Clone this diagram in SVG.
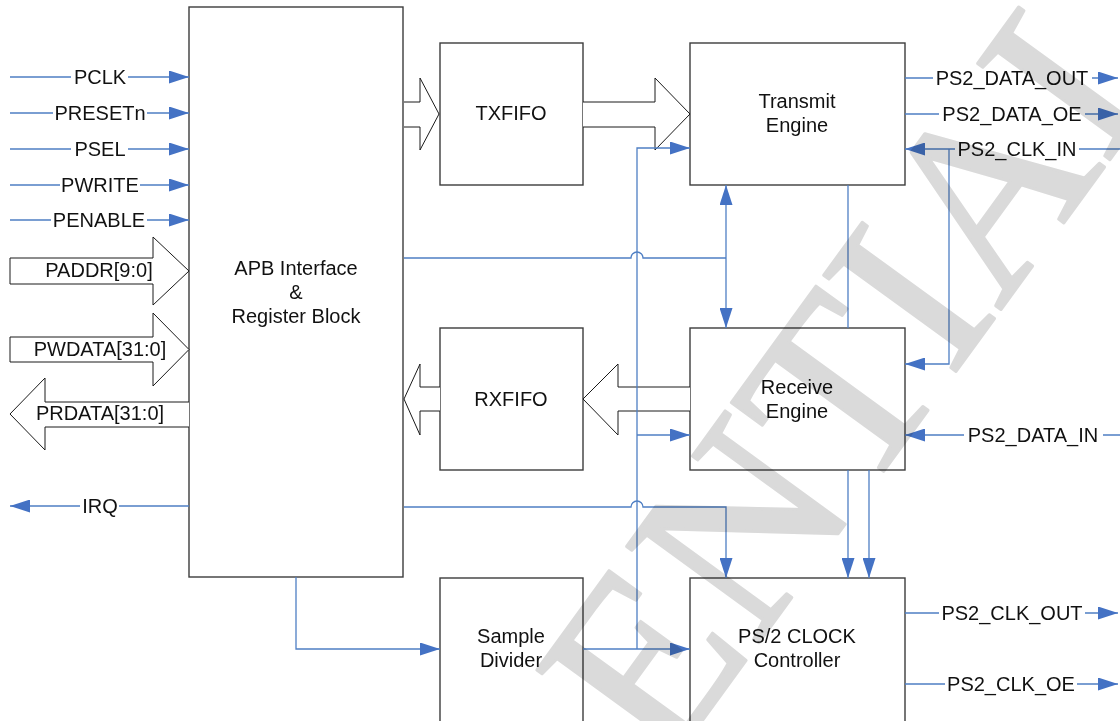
<svg xmlns="http://www.w3.org/2000/svg" width="1120" height="721" viewBox="0 0 1120 721">
<defs>
<style>
.box{fill:#fff;stroke:#3c3c3c;stroke-width:1.4}
.bar{fill:#fff;stroke:#1a1a1a;stroke-width:1}
.ln{fill:none;stroke:#4f7fc4;stroke-width:1.3}
.t{font-family:"Liberation Sans",Arial,sans-serif;font-size:20px;fill:#111;text-anchor:middle}
.wm{font-family:"Liberation Serif","Times New Roman",serif;font-size:250px;fill:#dadada;stroke:#dadada;stroke-width:3;stroke-linejoin:round;mix-blend-mode:multiply}
</style>
<marker id="ah" markerUnits="userSpaceOnUse" markerWidth="20" markerHeight="13" refX="20" refY="6.5" orient="auto-start-reverse">
<path d="M0,0 L20,6.5 L0,13 z" fill="#4472c4"/>
</marker>
</defs>
<rect width="1120" height="721" fill="#fff"/>

<g id="apb"><rect class="box" x="189" y="7" width="214" height="570"/>
<text class="t" x="296" y="275">APB Interface</text><text class="t" x="296" y="299">&amp;</text><text class="t" x="296" y="323">Register Block</text></g>
<g id="txfifo"><rect class="box" x="440" y="43" width="143" height="142"/><text class="t" x="511" y="120">TXFIFO</text></g>
<g id="rxfifo"><rect class="box" x="440" y="328" width="143" height="142"/><text class="t" x="511" y="406">RXFIFO</text></g>
<g id="sample"><rect class="box" x="440" y="578" width="143" height="148"/><text class="t" x="511" y="643">Sample</text><text class="t" x="511" y="667">Divider</text></g>
<g id="tx"><rect class="box" x="690" y="43" width="215" height="142"/><text class="t" x="797" y="108">Transmit</text><text class="t" x="797" y="132">Engine</text></g>
<g id="rx"><rect class="box" x="690" y="328" width="215" height="142"/><text class="t" x="797" y="394">Receive</text><text class="t" x="797" y="418">Engine</text></g>
<g id="clk"><rect class="box" x="690" y="578" width="215" height="148"/><text class="t" x="797" y="643">PS/2 CLOCK</text><text class="t" x="797" y="667">Controller</text></g>

<g id="buses">
<path class="bar" d="M10,258 H153 V237 L189,271 L153,305 V284 H10 Z"/>
<path class="bar" d="M10,337 H153 V313 L189,349.5 L153,386 V362 H10 Z"/>
<path class="bar" d="M189,402 H45 V378 L10,414 L45,450 V427 H189"/>
<path class="bar" d="M404,102 H420 V78 L439,114 L420,150 V127 H404"/>
<path class="bar" d="M583,102 H655 V78 L690,114 L655,150 V127 H583"/>
<path class="bar" d="M690,387 H618 V364 L583,399 L618,435 V411 H690"/>
<path class="bar" d="M440,387 H420 V364 L404,399 L420,435 V411 H440"/>
<text class="t" x="99" y="277">PADDR[9:0]</text>
<text class="t" x="100" y="356">PWDATA[31:0]</text>
<text class="t" x="100" y="420">PRDATA[31:0]</text>
</g>

<g id="connectors">
<path class="ln" d="M10,77 H71 M128,77 H189" marker-end="url(#ah)"/>
<path class="ln" d="M10,113 H53 M147,113 H189" marker-end="url(#ah)"/>
<path class="ln" d="M10,149 H71 M128,149 H189" marker-end="url(#ah)"/>
<path class="ln" d="M10,185 H60 M140,185 H189" marker-end="url(#ah)"/>
<path class="ln" d="M10,220 H51 M147,220 H189" marker-end="url(#ah)"/>
<path class="ln" d="M189,506 H119 M80,506 H10" marker-end="url(#ah)"/>

<path class="ln" d="M404,258 H631 A6,6 0 0 1 643,258 H726"/>
<path class="ln" d="M726,185 V328" marker-start="url(#ah)" marker-end="url(#ah)"/>
<path class="ln" d="M404,507 H631 A6,6 0 0 1 643,507 H726 V578" marker-end="url(#ah)"/>
<path class="ln" d="M637,649 V148 H690" marker-end="url(#ah)"/>
<path class="ln" d="M637,435 H690" marker-end="url(#ah)"/>
<path class="ln" d="M583,649 H690" marker-end="url(#ah)"/>
<path class="ln" d="M296,577 V649 H440" marker-end="url(#ah)"/>
<path class="ln" d="M848,185 V328"/>
<path class="ln" d="M848,470 V578" marker-end="url(#ah)"/>
<path class="ln" d="M869,470 V578" marker-end="url(#ah)"/>

<path class="ln" d="M905,78 H933 M1092,78 H1118" marker-end="url(#ah)"/>
<path class="ln" d="M905,114 H939 M1085,114 H1118" marker-end="url(#ah)"/>
<path class="ln" d="M1120,149 H1079 M955,149 H905" marker-end="url(#ah)"/>
<path class="ln" d="M949,149 V364 H905" marker-end="url(#ah)"/>
<path class="ln" d="M1120,435 H1103 M964,435 H905" marker-end="url(#ah)"/>
<path class="ln" d="M905,613 H939 M1085,613 H1118" marker-end="url(#ah)"/>
<path class="ln" d="M905,684 H945 M1077,684 H1118" marker-end="url(#ah)"/>

<text class="t" x="100" y="84">PCLK</text>
<text class="t" x="100" y="120">PRESETn</text>
<text class="t" x="100" y="156">PSEL</text>
<text class="t" x="100" y="192">PWRITE</text>
<text class="t" x="99" y="227">PENABLE</text>
<text class="t" x="100" y="513">IRQ</text>
<text class="t" x="1012" y="85">PS2_DATA_OUT</text>
<text class="t" x="1012" y="121">PS2_DATA_OE</text>
<text class="t" x="1017" y="156">PS2_CLK_IN</text>
<text class="t" x="1033" y="442">PS2_DATA_IN</text>
<text class="t" x="1012" y="620">PS2_CLK_OUT</text>
<text class="t" x="1011" y="691">PS2_CLK_OE</text>
</g>

<g id="watermark"><text class="wm" transform="translate(665,772) rotate(-54)">ENTIAL</text></g>
</svg>
